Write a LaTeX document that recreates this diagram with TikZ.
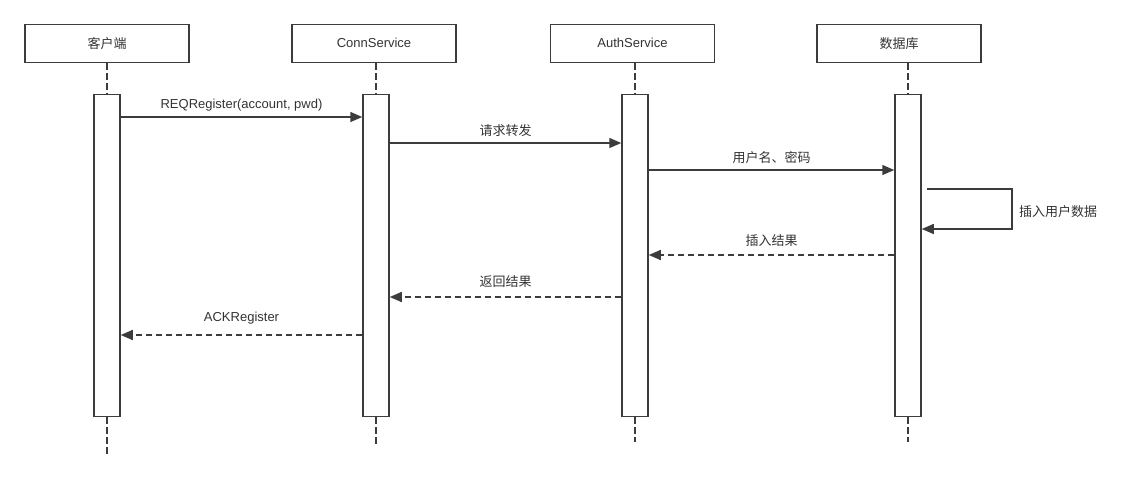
\documentclass[tikz,border=0pt]{standalone}
\usepackage{fontspec}
\setmainfont{Liberation Sans}
\newfontfamily\cjk{Noto Sans CJK SC}
\usetikzlibrary{arrows.meta,calc}
\definecolor{ln}{HTML}{3C3C3C}
\definecolor{tx}{HTML}{333333}
\begin{document}
\begin{tikzpicture}[x=1pt,y=-1pt,
  actor/.style={draw=ln, line width=1.5pt, fill=white, minimum width=164pt, minimum height=38pt, inner sep=0pt, font=\fontsize{13}{15}\selectfont, text=tx},
  actbar/.style={draw=ln, line width=1.5pt, fill=white, minimum width=26pt, minimum height=322pt, inner sep=0pt},
  life/.style={draw=ln, line width=1.5pt, dash pattern=on 7pt off 3pt},
  msg/.style={draw=ln, line width=1.5pt, line join=miter, -{Triangle[length=12pt,width=10pt]}},
  ret/.style={msg, dash pattern=on 6pt off 4pt},
  lbl/.style={font=\fontsize{13}{15}\selectfont, text=tx, inner sep=0pt}
]
\useasboundingbox (0,0) rectangle (1133,480);

% header boxes
\node[actor] (h1) at (107,43.3) {\cjk 客户端};
\node[actor] (h2) at (374,43.3) {ConnService};
\node[actor] (h3) at (632.5,43.3) {AuthService};
\node[actor] (h4) at (899,43.3) {\cjk 数据库};

% activation bars
\node[actbar] (b1) at (107,255.3) {};
\node[actbar] (b2) at (376,255.3) {};
\node[actbar] (b3) at (635,255.3) {};
\node[actbar] (b4) at (908,255.3) {};

% lifeline ends
\coordinate (e1) at (107,455);
\coordinate (e2) at (376,444);
\coordinate (e3) at (635,442);
\coordinate (e4) at (908,442);

% lifelines
\draw[life] (h1.south) -- (b1.north);
\draw[life] (b2.north |- h2.south) -- (b2.north);
\draw[life] (b3.north |- h3.south) -- (b3.north);
\draw[life] (b4.north |- h4.south) -- (b4.north);
\draw[life] (b1.south) -- (e1);
\draw[life] (b2.south) -- (e2);
\draw[life] (b3.south) -- (e3);
\draw[life] (b4.south) -- (e4);

% message rows
\coordinate (y1) at (0,117);
\coordinate (y2) at (0,143);
\coordinate (y3) at (0,170);
\coordinate (y5) at (0,255);
\coordinate (y6) at (0,297);
\coordinate (y7) at (0,335);

\draw[msg] (b1.east |- y1) -- node[lbl, yshift=12pt] (t1) {REQRegister(account, pwd)} (b2.west |- y1);
\draw[msg] (b2.east |- y2) -- node[lbl, yshift=12pt] (t2) {\cjk 请求转发} (b3.west |- y2);
\draw[msg] (b3.east |- y3) -- node[lbl, yshift=12pt] (t3) {\cjk 用户名、密码} (b4.west |- y3);

% self message
\coordinate (s0) at (927,189);
\coordinate (s1) at (1012,189);
\coordinate (s2) at (1012,229);
\draw[msg] (s0) -- (s1) -- (s2) -- (s2 -| b4.east);
\node[lbl] (t4) at (1058,211.5) {\cjk 插入用户数据};

% returns
\draw[ret] (b4.west |- y5) -- node[lbl, yshift=14pt] (t5) {\cjk 插入结果} (b3.east |- y5);
\draw[ret] (b3.west |- y6) -- node[lbl, yshift=15pt] (t6) {\cjk 返回结果} (b2.east |- y6);
\draw[ret] (b2.west |- y7) -- node[lbl, yshift=17pt] (t7) {ACKRegister} (b1.east |- y7);
\end{tikzpicture}
\end{document}
